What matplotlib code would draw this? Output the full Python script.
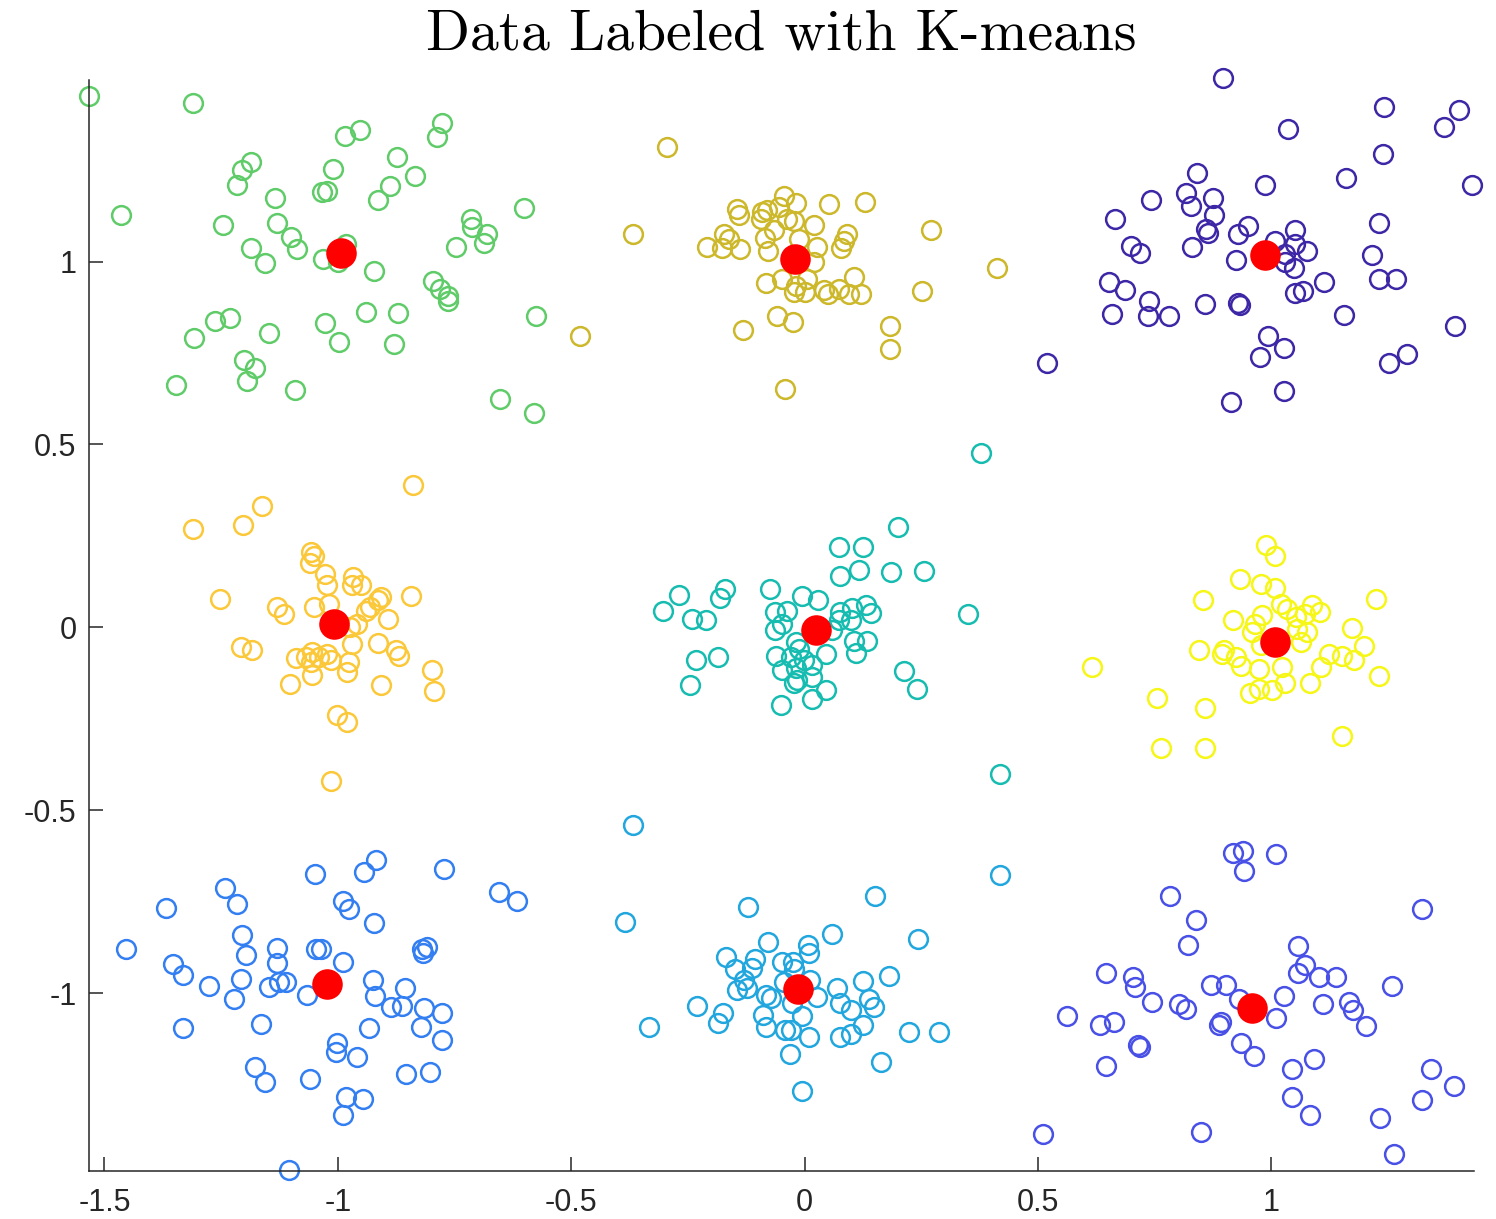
import matplotlib.pyplot as plt
import numpy as np

# cluster members, grouped by the label k-means gave them
green_x = [-1.533, -1.310, -0.953, -0.985, -0.776, -0.787, -1.185, -1.205, -1.215, -1.010,
           -0.873, -0.834, -0.888, -0.913, -1.033, -1.023, -1.135, -1.465, -1.246, -1.130,
           -1.100, -1.087, -1.185, -1.155, -1.031, -0.983, -0.999, -0.922, -0.715, -0.712,
           -0.681, -0.687, -0.746, -0.600, -0.796, -0.782, -0.763, -0.763, -0.576, -0.940,
           -0.871, -1.027, -0.998, -0.879, -1.264, -1.231, -1.309, -1.148, -1.201, -1.178,
           -1.194, -1.347, -1.091, -0.652, -0.580]
green_y = [1.452, 1.434, 1.360, 1.344, 1.379, 1.340, 1.273, 1.251, 1.208, 1.252,
           1.285, 1.233, 1.206, 1.167, 1.191, 1.193, 1.173, 1.128, 1.099, 1.106,
           1.067, 1.034, 1.036, 0.996, 1.006, 1.048, 0.998, 0.975, 1.117, 1.094,
           1.074, 1.050, 1.039, 1.146, 0.948, 0.925, 0.907, 0.891, 0.851, 0.861,
           0.858, 0.833, 0.781, 0.774, 0.838, 0.846, 0.792, 0.804, 0.732, 0.710,
           0.674, 0.663, 0.649, 0.624, 0.586]

olive_x = [-0.294, -0.367, -0.481, -0.131, -0.058, -0.024, -0.041, 0.184, 0.184, 0.252,
           0.272, 0.413, 0.129, 0.052, -0.044, -0.019, -0.055, -0.144, -0.140, -0.091,
           -0.080, -0.094, -0.037, -0.023, 0.020, -0.172, -0.162, -0.084, -0.066, -0.012,
           0.091, 0.084, 0.079, -0.208, -0.176, -0.139, -0.079, 0.027, 0.020, -0.082,
           -0.048, -0.019, -0.023, 0.002, 0.006, 0.041, 0.051, 0.074, 0.095, 0.106, 0.122]
olive_y = [1.312, 1.076, 0.796, 0.814, 0.851, 0.835, 0.651, 0.824, 0.762, 0.919,
           1.085, 0.983, 1.163, 1.157, 1.178, 1.160, 1.148, 1.144, 1.128, 1.135,
           1.141, 1.117, 1.117, 1.110, 1.100, 1.076, 1.062, 1.065, 1.085, 1.062,
           1.076, 1.057, 1.036, 1.041, 1.036, 1.033, 1.030, 1.039, 0.998, 0.942,
           0.953, 0.934, 0.916, 0.916, 0.953, 0.921, 0.912, 0.925, 0.912, 0.957, 0.912]

purple_x = [0.897, 1.241, 1.403, 1.370, 1.035, 1.239, 1.161, 1.430, 0.986, 0.840,
            0.818, 0.876, 0.827, 0.877, 0.742, 0.665, 1.230, 0.861, 0.864, 0.951,
            0.928, 1.051, 1.008, 1.051, 1.077, 1.030, 1.030, 1.048, 0.831, 0.700,
            0.718, 0.924, 1.216, 0.652, 0.686, 0.738, 0.735, 0.658, 0.781, 0.858,
            0.928, 0.934, 1.114, 1.050, 1.069, 1.230, 1.268, 1.155, 1.393, 0.994,
            1.027, 0.975, 1.291, 1.253, 0.520, 1.027, 0.913]
purple_y = [1.502, 1.422, 1.415, 1.367, 1.363, 1.293, 1.228, 1.210, 1.210, 1.241,
            1.188, 1.173, 1.151, 1.128, 1.169, 1.115, 1.105, 1.089, 1.078, 1.097,
            1.074, 1.086, 1.055, 1.048, 1.028, 1.021, 0.998, 0.983, 1.039, 1.042,
            1.023, 1.003, 1.018, 0.943, 0.923, 0.892, 0.852, 0.857, 0.850, 0.884,
            0.887, 0.882, 0.943, 0.914, 0.919, 0.951, 0.951, 0.855, 0.825, 0.797,
            0.763, 0.740, 0.748, 0.724, 0.723, 0.645, 0.617]

orange_x = [-0.838, -1.163, -1.203, -1.310, -1.058, -1.051, -1.060, -1.028, -1.024, -0.967,
            -0.970, -0.951, -0.908, -0.914, -0.843, -1.253, -1.131, -1.115, -1.051, -1.018,
            -0.940, -0.930, -0.958, -0.892, -0.973, -0.970, -0.913, -0.876, -0.868, -1.208,
            -1.183, -1.090, -1.069, -1.055, -1.040, -1.023, -1.015, -1.058, -0.976, -0.980,
            -1.055, -1.103, -0.907, -0.798, -0.793, -1.001, -0.981, -1.014]
orange_y = [0.388, 0.333, 0.279, 0.268, 0.206, 0.194, 0.176, 0.145, 0.115, 0.137,
            0.115, 0.115, 0.083, 0.074, 0.085, 0.078, 0.056, 0.037, 0.056, 0.065,
            0.046, 0.056, 0.010, 0.022, 0.001, -0.046, -0.043, -0.063, -0.077, -0.054,
            -0.063, -0.083, -0.081, -0.067, -0.081, -0.072, -0.088, -0.095, -0.095, -0.122,
            -0.131, -0.154, -0.157, -0.117, -0.174, -0.240, -0.259, -0.420]

teal_x = [0.379, 0.201, 0.073, 0.125, 0.077, 0.116, 0.186, 0.256, 0.350, -0.268,
          -0.303, -0.170, -0.182, -0.242, -0.212, -0.074, -0.006, 0.028, -0.063, -0.037,
          -0.048, -0.063, 0.075, 0.102, 0.132, 0.143, 0.099, 0.073, 0.059, 0.106,
          0.134, 0.111, -0.019, -0.011, 0.045, -0.062, -0.030, -0.001, -0.048, -0.019,
          0.016, 0.016, -0.023, -0.016, 0.046, 0.016, -0.051, -0.232, -0.186, -0.246,
          0.214, 0.242, 0.418]
teal_y = [0.476, 0.273, 0.220, 0.219, 0.140, 0.156, 0.152, 0.153, 0.036, 0.089,
          0.046, 0.104, 0.081, 0.024, 0.021, 0.106, 0.085, 0.074, 0.042, 0.044,
          0.010, -0.008, 0.042, 0.053, 0.062, 0.039, 0.019, 0.021, -0.008, -0.037,
          -0.038, -0.070, -0.040, -0.058, -0.074, -0.079, -0.081, -0.090, -0.116, -0.110,
          -0.104, -0.136, -0.152, -0.143, -0.170, -0.196, -0.213, -0.088, -0.081, -0.157,
          -0.118, -0.169, -0.401]

yellow_x = [0.989, 1.007, 0.932, 0.978, 1.009, 0.853, 1.225, 1.020, 1.034, 1.088,
            1.105, 1.073, 1.052, 0.980, 0.918, 0.966, 0.959, 1.172, 1.077, 1.055,
            1.063, 0.977, 1.198, 0.845, 0.898, 0.895, 0.925, 0.936, 0.973, 1.023,
            1.123, 1.152, 1.177, 1.107, 1.230, 1.082, 1.030, 1.002, 0.973, 0.954,
            0.615, 0.755, 0.857, 0.763, 0.857, 1.152]
yellow_y = [0.224, 0.195, 0.131, 0.118, 0.108, 0.074, 0.078, 0.065, 0.051, 0.060,
            0.042, 0.037, 0.028, 0.033, 0.019, 0.010, -0.013, -0.002, -0.013, -0.004,
            -0.040, -0.049, -0.050, -0.062, -0.063, -0.072, -0.081, -0.106, -0.115, -0.108,
            -0.072, -0.079, -0.090, -0.108, -0.133, -0.152, -0.152, -0.172, -0.169, -0.179,
            -0.107, -0.192, -0.221, -0.331, -0.330, -0.298]

blue_x = [-0.919, -0.943, -1.049, -0.773, -1.242, -1.215, -1.367, -0.655, -0.617, -0.989,
          -0.975, -0.923, -1.206, -1.453, -1.196, -1.130, -1.046, -1.037, -1.131, -0.989,
          -0.819, -0.808, -0.818, -1.352, -1.332, -1.276, -1.207, -1.148, -1.126, -1.112,
          -1.065, -1.223, -0.925, -0.921, -0.855, -0.885, -0.863, -0.816, -0.777, -0.821,
          -0.777, -0.933, -1.165, -1.331, -1.001, -1.003, -0.958, -1.178, -1.157, -1.060,
          -0.853, -0.803, -0.982, -0.947, -0.989, -1.105]
blue_y = [-0.637, -0.670, -0.675, -0.661, -0.712, -0.755, -0.767, -0.723, -0.747, -0.749,
          -0.769, -0.807, -0.840, -0.880, -0.896, -0.876, -0.878, -0.878, -0.917, -0.914,
          -0.878, -0.873, -0.890, -0.919, -0.949, -0.981, -0.960, -0.983, -0.969, -0.969,
          -1.005, -1.017, -0.964, -1.008, -0.985, -1.037, -1.036, -1.040, -1.054, -1.092,
          -1.128, -1.095, -1.083, -1.094, -1.136, -1.162, -1.174, -1.201, -1.242, -1.234,
          -1.221, -1.216, -1.285, -1.289, -1.333, -1.482]

sky_x = [-0.368, -0.385, 0.418, -0.122, 0.151, 0.058, 0.244, -0.078, 0.008, 0.009,
         -0.169, -0.107, -0.112, -0.150, -0.048, -0.024, -0.023, -0.130, -0.144, -0.123,
         -0.044, 0.011, 0.181, 0.125, 0.070, 0.027, -0.082, -0.071, -0.230, 0.077,
         0.100, 0.139, 0.149, -0.026, -0.175, -0.186, -0.089, -0.005, -0.082, -0.041,
         -0.028, 0.009, 0.126, 0.076, 0.099, 0.223, 0.288, -0.334, -0.031, 0.163, -0.005]
sky_y = [-0.541, -0.806, -0.678, -0.764, -0.735, -0.839, -0.852, -0.861, -0.869, -0.890,
         -0.901, -0.907, -0.930, -0.933, -0.915, -0.915, -0.933, -0.964, -0.992, -0.987,
         -0.969, -0.964, -0.954, -0.966, -0.987, -1.010, -1.005, -1.012, -1.034, -1.028,
         -1.045, -1.017, -1.039, -1.028, -1.053, -1.081, -1.060, -1.063, -1.092, -1.101,
         -1.101, -1.121, -1.087, -1.119, -1.112, -1.106, -1.107, -1.093, -1.165, -1.189, -1.267]

violet_x = [0.918, 0.940, 1.010, 0.942, 0.784, 0.838, 0.822, 1.323, 1.058, 1.072,
            1.058, 1.103, 1.139, 1.259, 0.645, 0.704, 0.707, 0.871, 0.904, 0.930,
            1.027, 0.745, 0.802, 0.818, 1.110, 1.166, 1.175, 1.204, 0.563, 0.634,
            0.663, 1.010, 0.893, 0.888, 0.715, 0.718, 0.936, 0.963, 0.646, 1.092,
            1.045, 1.343, 1.392, 1.322, 1.045, 1.084, 1.232, 0.511, 0.850, 1.262]
violet_y = [-0.618, -0.611, -0.620, -0.667, -0.734, -0.799, -0.868, -0.770, -0.872, -0.922,
            -0.944, -0.955, -0.955, -0.980, -0.946, -0.955, -0.983, -0.978, -0.978, -1.017,
            -1.008, -1.025, -1.030, -1.042, -1.030, -1.025, -1.046, -1.090, -1.062, -1.087,
            -1.078, -1.069, -1.080, -1.087, -1.142, -1.148, -1.137, -1.171, -1.198, -1.181,
            -1.208, -1.208, -1.255, -1.291, -1.283, -1.333, -1.341, -1.385, -1.380, -1.440]

# k-means centroids
cent_x = [-0.994, -0.021, 0.986, -1.008, 0.024, 1.008, -1.024, -0.013, 0.958]
cent_y = [1.024, 1.007, 1.018, 0.008, -0.006, -0.040, -0.976, -0.988, -1.040]

clusters = [
    (purple_x, purple_y, '#3e27a6'),
    (violet_x, violet_y, '#4850e6'),
    (blue_x, blue_y, '#337ff2'),
    (sky_x, sky_y, '#22a6de'),
    (teal_x, teal_y, '#17bcb0'),
    (green_x, green_y, '#60cb69'),
    (olive_x, olive_y, '#ccb82a'),
    (orange_x, orange_y, '#fbc83a'),
    (yellow_x, yellow_y, '#f6f617'),
]

fig = plt.figure(figsize=(14.96, 12.19), dpi=100)
ax = fig.add_axes([0.0595, 0.0394, 0.926, 0.8946])

for xs, ys, col in clusters:
    ax.plot(xs, ys, 'o', linestyle='none', markersize=13.5, markerfacecolor='none',
            markeredgecolor=col, markeredgewidth=1.8, clip_on=False)

ax.plot(cent_x, cent_y, 'o', linestyle='none', markersize=22, color='#ff0000',
        markeredgewidth=0, clip_on=False)

ax.set_xlim(-1.533, 1.435)
ax.set_ylim(-1.486, 1.495)
ax.set_xticks([-1.5, -1, -0.5, 0, 0.5, 1])
ax.set_xticklabels(['-1.5', '-1', '-0.5', '0', '0.5', '1'])
ax.set_yticks([-1, -0.5, 0, 0.5, 1])
ax.set_yticklabels(['-1', '-0.5', '0', '0.5', '1'])

for side in ['top', 'right']:
    ax.spines[side].set_visible(False)
for side in ['left', 'bottom']:
    ax.spines[side].set_color('#262626')
    ax.spines[side].set_linewidth(1.1)

ax.tick_params(direction='in', length=10, width=1.1, color='#262626',
               labelcolor='#262626', labelsize=22, pad=9)
ax.tick_params(axis='x', pad=12)
for lab in ax.get_xticklabels() + ax.get_yticklabels():
    lab.set_fontfamily('Liberation Sans')

ax.set_title('Data Labeled with K-means', fontfamily='cmr10', fontsize=41.5, pad=22)

fig.savefig('out.png', dpi=100)
